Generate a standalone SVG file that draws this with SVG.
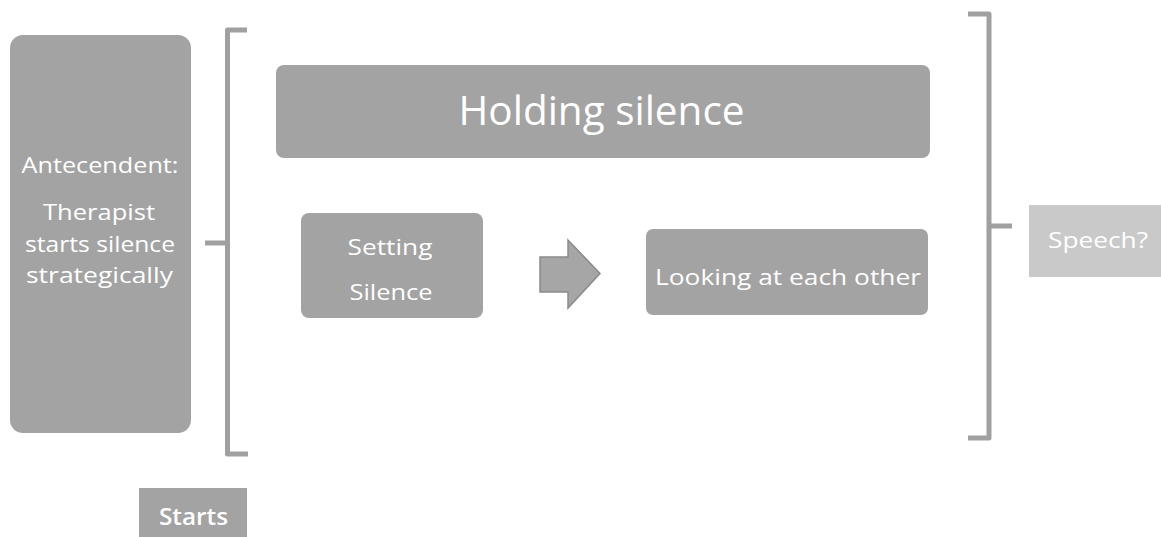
<svg xmlns="http://www.w3.org/2000/svg" width="1161" height="537" viewBox="0 0 1161 537">
  <style>
    .box { fill: #a3a3a3; }
    .light { fill: #c9c9c9; }
    .t { fill: #ffffff; font-family: "Open Sans", "Noto Sans", "Liberation Sans", sans-serif; text-anchor: middle; }
    .br { fill: none; stroke: #a0a0a0; stroke-width: 5; stroke-linejoin: round; }
  </style>
  <rect width="1161" height="537" fill="#ffffff"/>

  <g id="antecedent">
    <rect class="box" x="10" y="35" width="181" height="398" rx="13"/>
    <text class="t" x="100" y="173" font-size="22" textLength="157" lengthAdjust="spacingAndGlyphs">Antecendent:</text>
    <text class="t" x="99" y="220" font-size="22" textLength="112" lengthAdjust="spacingAndGlyphs">Therapist</text>
    <text class="t" x="100" y="252" font-size="22" textLength="150" lengthAdjust="spacingAndGlyphs">starts silence</text>
    <text class="t" x="99.5" y="283" font-size="22" textLength="147" lengthAdjust="spacingAndGlyphs">strategically</text>
  </g>

  <g id="holding-silence">
    <rect class="box" x="276" y="65" width="654" height="93" rx="8"/>
    <text class="t" x="601.5" y="125" font-size="40" textLength="286" lengthAdjust="spacingAndGlyphs">Holding silence</text>
  </g>

  <g id="setting-silence">
    <rect class="box" x="301" y="213" width="182" height="105" rx="8"/>
    <text class="t" x="390" y="255" font-size="22" textLength="85" lengthAdjust="spacingAndGlyphs">Setting</text>
    <text class="t" x="391" y="300" font-size="22" textLength="83" lengthAdjust="spacingAndGlyphs">Silence</text>
  </g>

  <g id="looking">
    <rect class="box" x="646" y="229" width="282" height="86" rx="7"/>
    <text class="t" x="788" y="285" font-size="22" textLength="266" lengthAdjust="spacingAndGlyphs">Looking at each other</text>
  </g>

  <g id="speech">
    <rect class="light" x="1029" y="205" width="132" height="72"/>
    <text class="t" x="1098" y="248" font-size="21" textLength="100" lengthAdjust="spacingAndGlyphs">Speech?</text>
  </g>

  <g id="starts">
    <rect class="box" x="139" y="488" width="108" height="49"/>
    <text class="t" x="193.5" y="525" font-size="23" font-weight="600" textLength="69" lengthAdjust="spacingAndGlyphs">Starts</text>
  </g>

  <g id="connectors">
    <path class="br" d="M247,30 H227.5 V454 H248 M227.5,243 H205"/>
    <path class="br" d="M968,14 H989 V438 H968 M989,226 H1012"/>
    <path d="M540,257 H568 V240 L600,273.5 L568,308 V292 H540 Z" fill="#a6a6a6" stroke="#8a8a8a" stroke-width="1.5" stroke-linejoin="miter"/>
  </g>
</svg>
